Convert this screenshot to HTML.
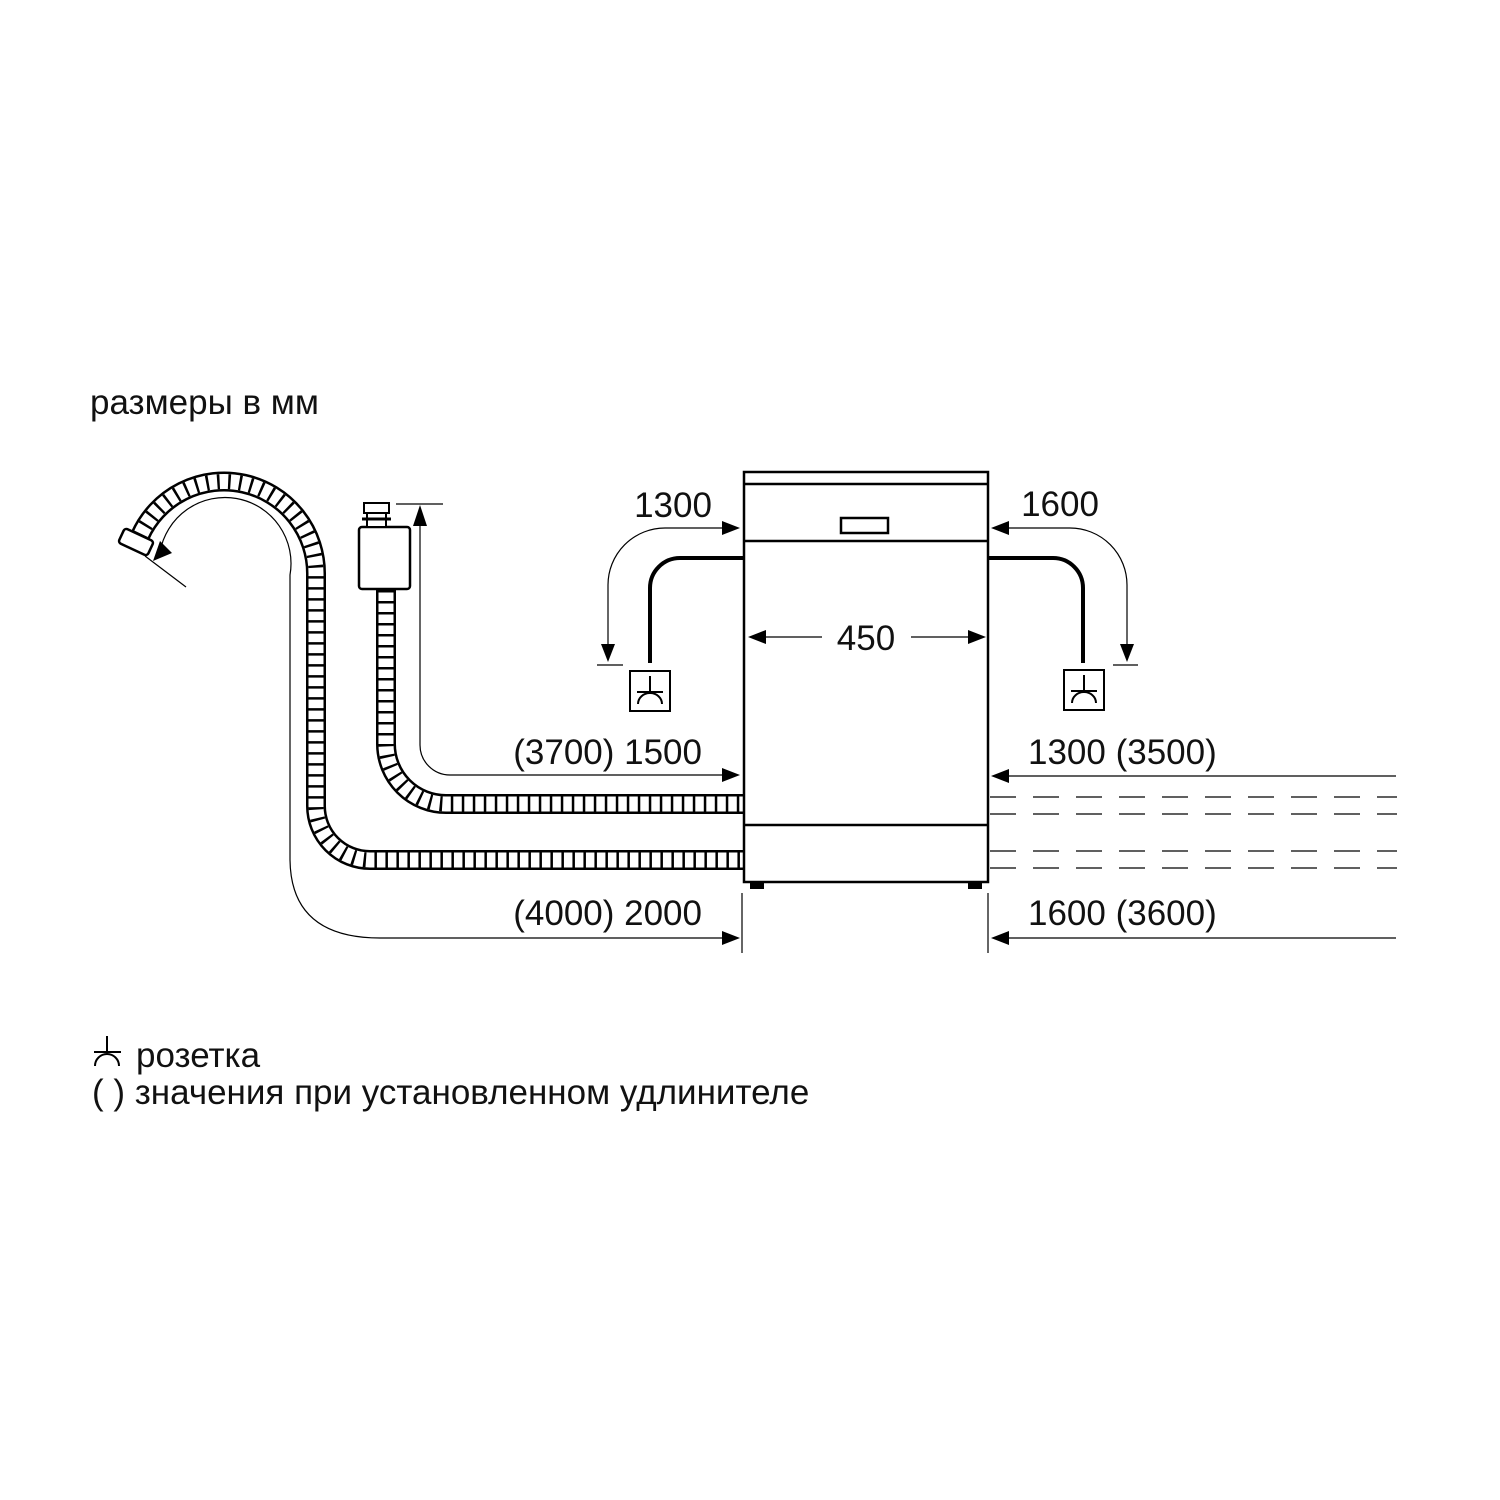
<!DOCTYPE html>
<html><head><meta charset="utf-8"><style>
html,body{margin:0;padding:0;background:#fff;}
svg{display:block}
text{font-family:"Liberation Sans",Arial,sans-serif;fill:#111}
</style></head><body>
<svg width="1500" height="1500" viewBox="0 0 1500 1500" xmlns="http://www.w3.org/2000/svg">
<rect width="1500" height="1500" fill="#fff"/>
<text x="90" y="414" font-size="35">размеры в мм</text>

<g fill="none">
<path d="M140,536 A92,92 0 0 1 316,575 L316,806 A54,54 0 0 0 370,860 L744,860" stroke="#000" stroke-width="20"/>
<path d="M140,536 A92,92 0 0 1 316,575 L316,806 A54,54 0 0 0 370,860 L744,860" stroke="#fff" stroke-width="15"/>
<path d="M140,536 A92,92 0 0 1 316,575 L316,806 A54,54 0 0 0 370,860 L744,860" stroke="#000" stroke-width="15" stroke-dasharray="2.5 8.5"/>
<path d="M386,590 L386,744 A60,60 0 0 0 446,804 L744,804" stroke="#000" stroke-width="20"/>
<path d="M386,590 L386,744 A60,60 0 0 0 446,804 L744,804" stroke="#fff" stroke-width="15"/>
<path d="M386,590 L386,744 A60,60 0 0 0 446,804 L744,804" stroke="#000" stroke-width="15" stroke-dasharray="2.5 8.5"/>
</g>
<rect x="-16" y="-8" width="32" height="16" rx="3" fill="#fff" stroke="#000" stroke-width="2.5" transform="translate(136,542) rotate(25)"/>
<rect x="359" y="527" width="51" height="62" rx="3" fill="#fff" stroke="#000" stroke-width="2.5"/>
<rect x="364" y="503" width="25" height="10" fill="#fff" stroke="#000" stroke-width="2"/>
<rect x="367" y="513" width="19" height="14" fill="#fff" stroke="#000" stroke-width="2"/>
<line x1="362" y1="519" x2="391" y2="519" stroke="#000" stroke-width="3"/>

<g fill="none" stroke="#000" stroke-width="1.2">
<path d="M420,515 L420,745 A30,30 0 0 0 450,775 L728,775"/>
<line x1="396" y1="504" x2="443" y2="504"/>
<path d="M160,552 A65,65 0 0 1 290,575 L290,860 Q291,938 380,938 L728,938"/>
<line x1="145" y1="556" x2="186" y2="587"/>
<path d="M728,528 L665,528 A57,57 0 0 0 608,585 L608,652"/>
<line x1="597" y1="665" x2="623" y2="665"/>
<path d="M1004,528 L1070,528 A57,57 0 0 1 1127,585 L1127,652"/>
<line x1="1113" y1="665" x2="1138" y2="665"/>
<line x1="760" y1="637" x2="822" y2="637"/>
<line x1="911" y1="637" x2="972" y2="637"/>
<line x1="1004" y1="776" x2="1396" y2="776"/>
<line x1="1004" y1="938" x2="1396" y2="938"/>
<line x1="742" y1="893" x2="742" y2="953"/>
<line x1="988" y1="893" x2="988" y2="953"/>
</g>
<g stroke="#000" stroke-width="1.3" stroke-dasharray="26 17">
<line x1="990" y1="797" x2="1397" y2="797"/>
<line x1="990" y1="814" x2="1397" y2="814"/>
<line x1="990" y1="851" x2="1397" y2="851"/>
<line x1="990" y1="868" x2="1397" y2="868"/>
</g>
<g fill="#000">
<polygon points="420,505 413,526 427,526"/>
<polygon points="153,561 160,541 172,553"/>
<polygon points="740,775 722,768 722,782"/>
<polygon points="740,938 722,931 722,945"/>
<polygon points="740,528 722,521 722,535"/>
<polygon points="608,662 601,644 615,644"/>
<polygon points="991,528 1009,521 1009,535"/>
<polygon points="1127,662 1120,644 1134,644"/>
<polygon points="748,637 766,630 766,644"/>
<polygon points="986,637 968,630 968,644"/>
<polygon points="991,776 1009,769 1009,783"/>
<polygon points="991,938 1009,931 1009,945"/>
</g>

<g fill="none" stroke="#000" stroke-width="2.5">
<rect x="744" y="472" width="244" height="410"/>
<line x1="744" y1="484" x2="988" y2="484"/>
<line x1="744" y1="541" x2="988" y2="541"/>
<line x1="744" y1="825" x2="988" y2="825"/>
<rect x="841" y="518" width="47" height="15"/>
</g>
<rect x="750" y="882" width="14" height="7" fill="#000"/>
<rect x="968" y="882" width="14" height="7" fill="#000"/>

<g fill="none" stroke="#000" stroke-width="4">
<path d="M744,558 L680,558 A30,30 0 0 0 650,588 L650,663"/>
<path d="M988,558 L1053,558 A30,30 0 0 1 1083,588 L1083,663"/>
</g>
<g fill="none" stroke="#000" stroke-width="2">
<rect x="630" y="671" width="40" height="40"/>
<path d="M650,676 L650,692 M637,692 L663,692 M638,704 A12,11 0 0 1 662,704"/>
<rect x="1064" y="670" width="40" height="40"/>
<path d="M1084,675 L1084,691 M1071,691 L1097,691 M1072,703 A12,11 0 0 1 1096,703"/>
</g>

<g font-size="35">
<text x="673" y="517" text-anchor="middle">1300</text>
<text x="1060" y="516" text-anchor="middle">1600</text>
<text x="866" y="650" text-anchor="middle">450</text>
<text x="702" y="764" text-anchor="end">(3700) 1500</text>
<text x="1028" y="764">1300 (3500)</text>
<text x="702" y="925" text-anchor="end">(4000) 2000</text>
<text x="1028" y="925">1600 (3600)</text>
</g>
<g fill="none" stroke="#000" stroke-width="2">
<path d="M107,1036 L107,1052 M94,1052 L121,1052 M95,1066 A12,12 0 0 1 119,1066"/>
</g>
<text x="136" y="1067" font-size="35">розетка</text>
<text x="92" y="1104" font-size="35">( ) значения при установленном удлинителе</text>
</svg>
</body></html>
